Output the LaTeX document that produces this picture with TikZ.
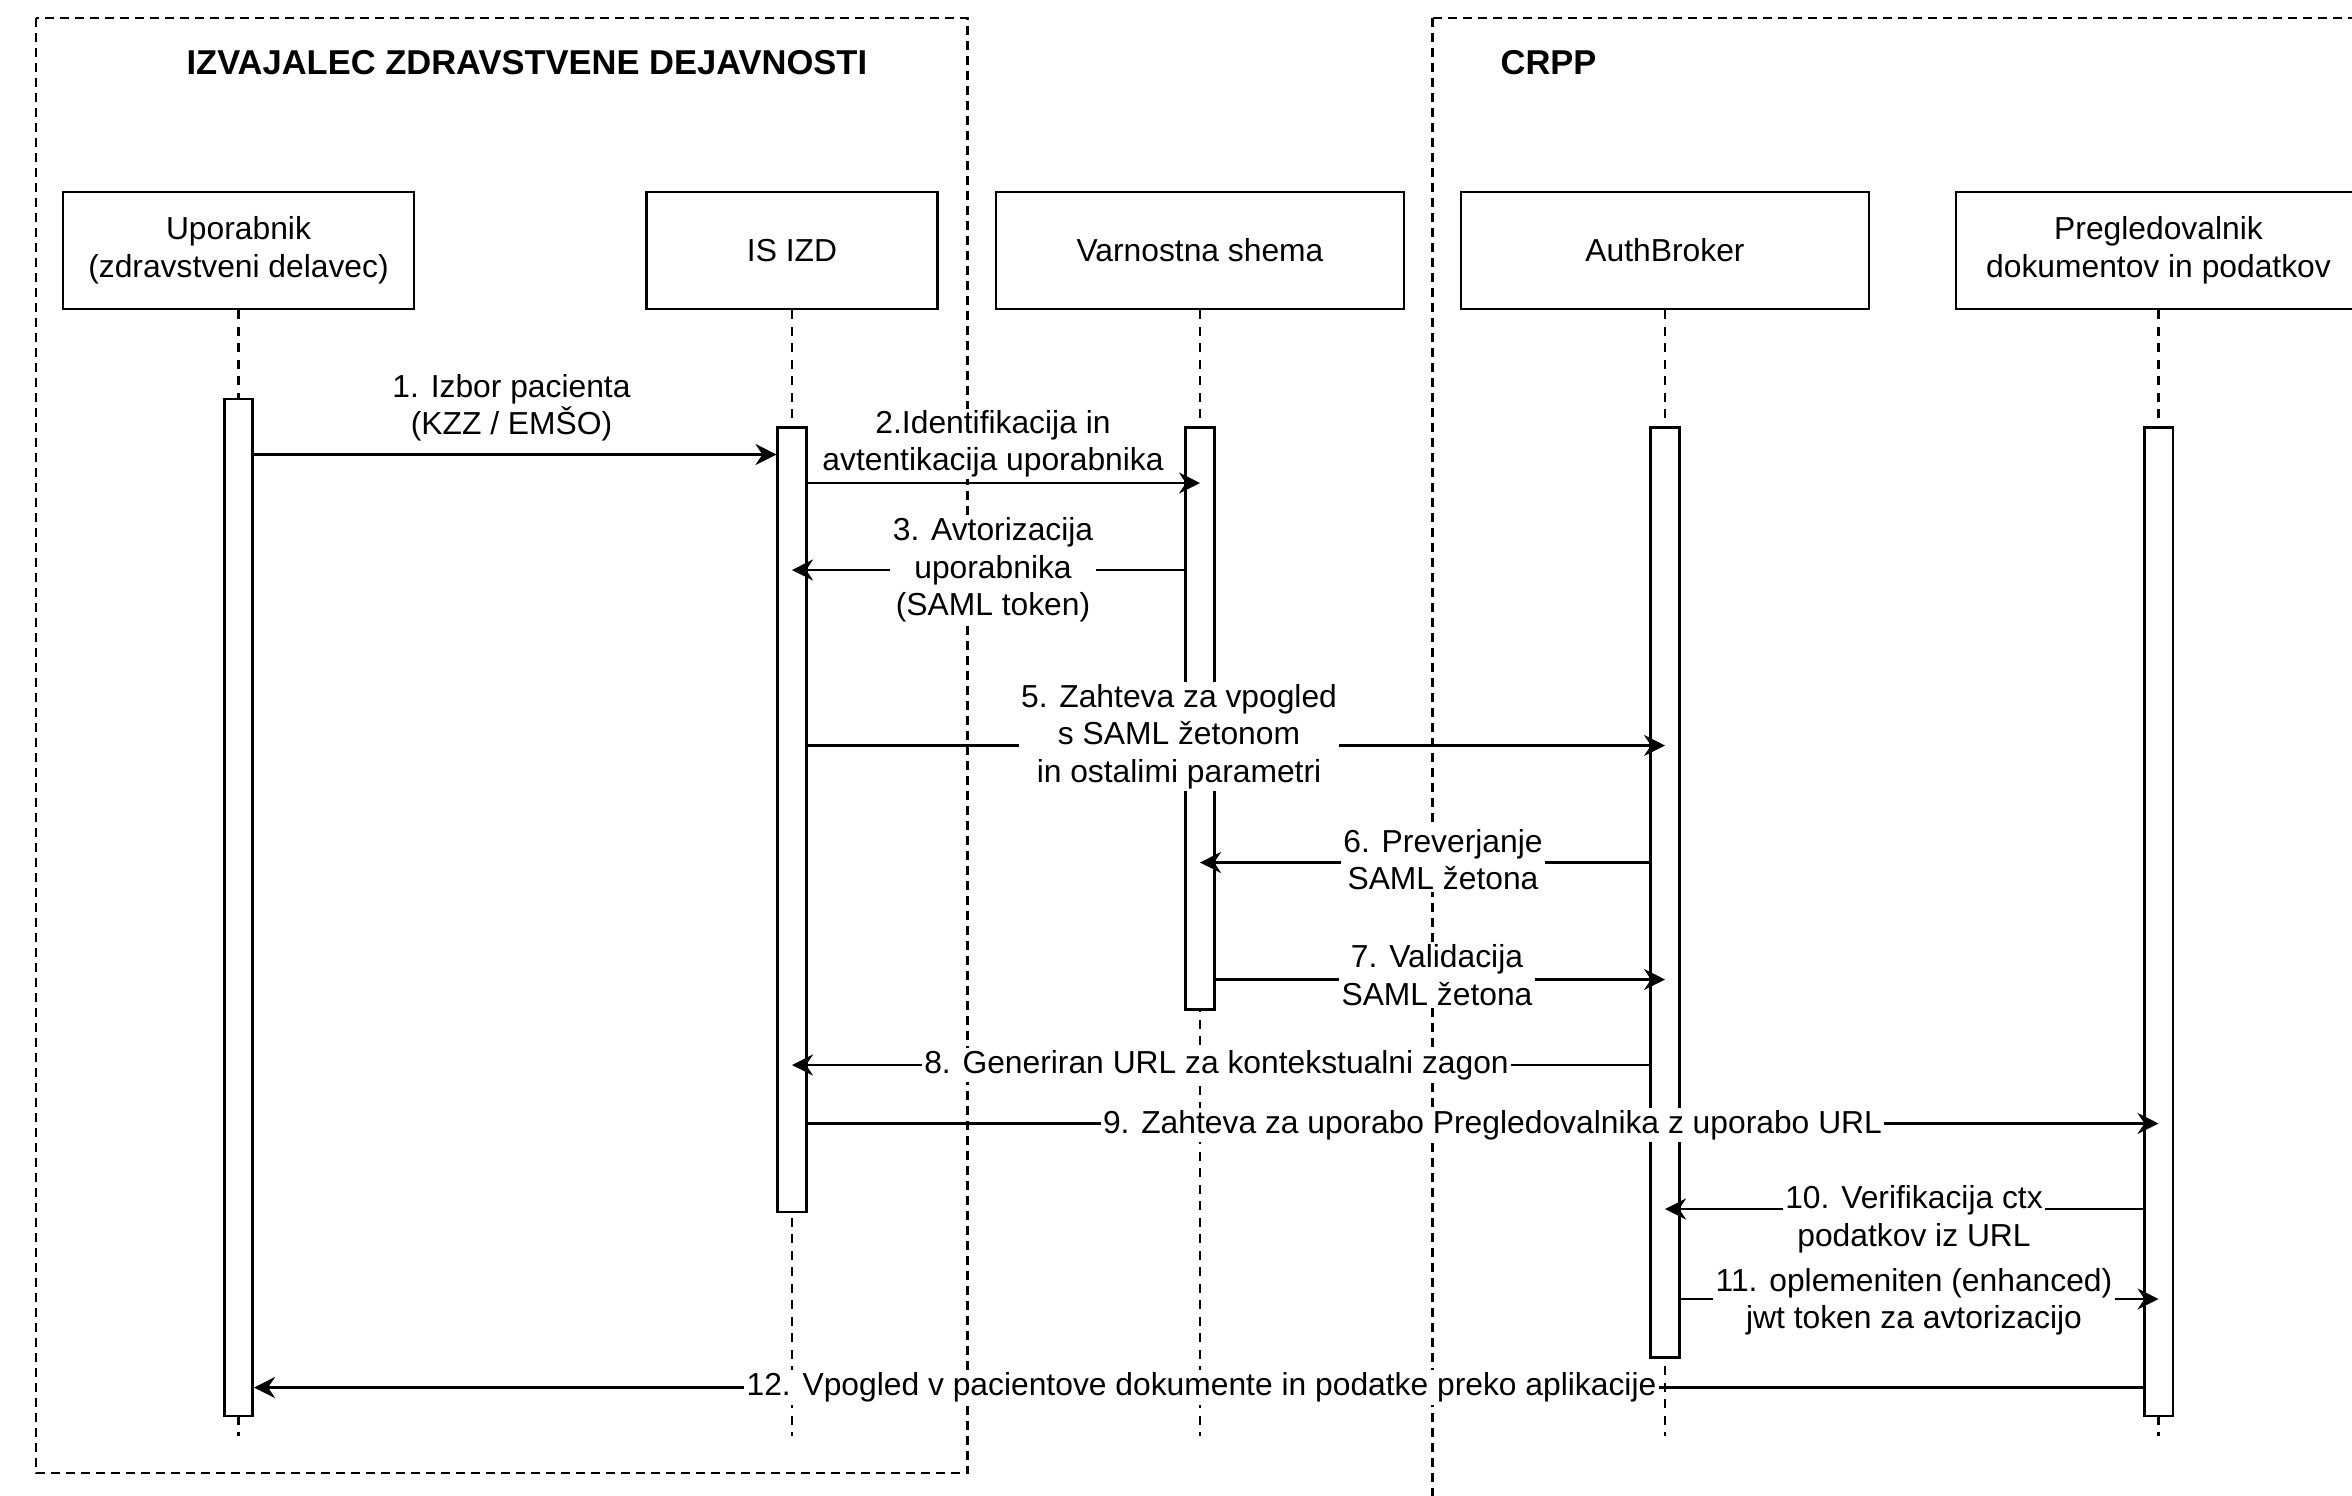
\documentclass[tikz,border=0pt]{standalone}
\usepackage{fontspec}
\setmainfont{Liberation Sans}
\usetikzlibrary{arrows.meta,calc}
\begin{document}
\begin{tikzpicture}[x=0.5pt,y=-0.5pt,
  lw/.style={line width=0.85pt},
  txt/.style={font=\fontsize{10.6pt}{12.5pt}\selectfont, align=center},
  title/.style={font=\fontsize{11.5pt}{13pt}\selectfont\bfseries, anchor=west, inner sep=0pt},
  container/.style={lw, dash pattern=on 3pt off 2pt},
  actor/.style={draw, lw, fill=white, txt, inner sep=0pt, minimum height=39pt},
  lifeline/.style={lw, dash pattern=on 3pt off 2.5pt},
  bar/.style={draw, lw, fill=white, minimum width=9.5pt, inner sep=0pt, anchor=north},
  msg/.style={lw, -{Stealth[length=7pt,width=7pt,inset=2.3pt]}},
  lbl/.style={txt, fill=white, inner sep=0.8pt},
  toplbl/.style={txt, fill=white, inner sep=0.4pt}
]
\clip (0,0) rectangle (1568,997);
\fill[white] (0,0) rectangle (1568,997);

% containers
\draw[container] (24,12) rectangle (645,982);
\draw[container] (955,12) rectangle (1700,1100);
\node[title] (t1) at (124,42) {IZVAJALEC ZDRAVSTVENE DEJAVNOSTI};
\node[title] (t2) at (1000,42) {CRPP};

% participants
\node[actor, minimum width=117pt] (u) at (159,167) {Uporabnik\\(zdravstveni delavec)};
\node[actor, minimum width=97pt]  (i) at (528,167) {IS IZD};
\node[actor, minimum width=136pt] (v) at (800,167) {Varnostna shema};
\node[actor, minimum width=136pt] (a) at (1110,167) {AuthBroker};
\node[actor, minimum width=135pt] (p) at (1439,167) {Pregledovalnik\\dokumentov in podatkov};

% lifelines
\coordinate (lend) at (0,957);
\foreach \n in {u,i,v,a,p} {
  \draw[lifeline] (\n.south) -- (\n.south |- lend);
}

% activation bars
\node[bar, minimum height=339pt]   (bu) at (159,265) {};
\node[bar, minimum height=261.5pt] (bi) at (528,284) {};
\node[bar, minimum height=194pt]   (bv) at (800,284) {};
\node[bar, minimum height=310pt]   (ba) at (1110,284) {};
\node[bar, minimum height=329.5pt] (bp) at (1439,284) {};

% message levels
\coordinate (y1) at (0,303);
\coordinate (y2) at (0,322);
\coordinate (y3) at (0,380);
\coordinate (y5) at (0,497);
\coordinate (y6) at (0,575);
\coordinate (y7) at (0,653);
\coordinate (y8) at (0,710);
\coordinate (y9) at (0,749);
\coordinate (y10) at (0,806);
\coordinate (y11) at (0,866);
\coordinate (y12) at (0,925);

% messages
\draw[msg] (bu.east |- y1) -- (bi.west |- y1);
\draw[msg] (bi.east |- y2) -- (bv.center |- y2);
\draw[msg] (bv.west |- y3) -- (bi.center |- y3);
\draw[msg] (bi.east |- y5) -- (ba.center |- y5);
\draw[msg] (ba.west |- y6) -- (bv.center |- y6);
\draw[msg] (bv.east |- y7) -- (ba.center |- y7);
\draw[msg] (ba.west |- y8) -- (bi.center |- y8);
\draw[msg] (bi.east |- y9) -- (bp.center |- y9);
\draw[msg] (bp.west |- y10) -- (ba.center |- y10);
\draw[msg] (ba.east |- y11) -- (bp.center |- y11);
\draw[msg] (bp.west |- y12) -- (bu.east |- y12);

% labels
\node[toplbl] (l1) at (341,272) {1. Izbor pacienta\\(KZZ / EMŠO)};
\node[toplbl] (l2) at (662,296) {2.Identifikacija in\\avtentikacija uporabnika};
\node[lbl] (l3) at (662,380) {3. Avtorizacija\\uporabnika\\(SAML token)};
\node[lbl] (l5) at (786,491) {5. Zahteva za vpogled\\s SAML žetonom\\in ostalimi parametri};
\node[lbl] (l6) at (962,573) {6. Preverjanje\\SAML žetona};
\node[lbl] (l7) at (958,650) {7. Validacija\\SAML žetona};
\node[lbl] (l8) at (811,710) {8. Generiran URL za kontekstualni zagon};
\node[lbl] (l9) at (995,750) {9. Zahteva za uporabo Pregledovalnika z uporabo URL};
\node[lbl] (l10) at (1276,813) {10. Verifikacija ctx\\podatkov iz URL};
\node[lbl] (l11) at (1276,868) {11. oplemeniten (enhanced)\\jwt token za avtorizacijo};
\node[lbl] (l12) at (801,925) {12. Vpogled v pacientove dokumente in podatke preko aplikacije};
\end{tikzpicture}
\end{document}
